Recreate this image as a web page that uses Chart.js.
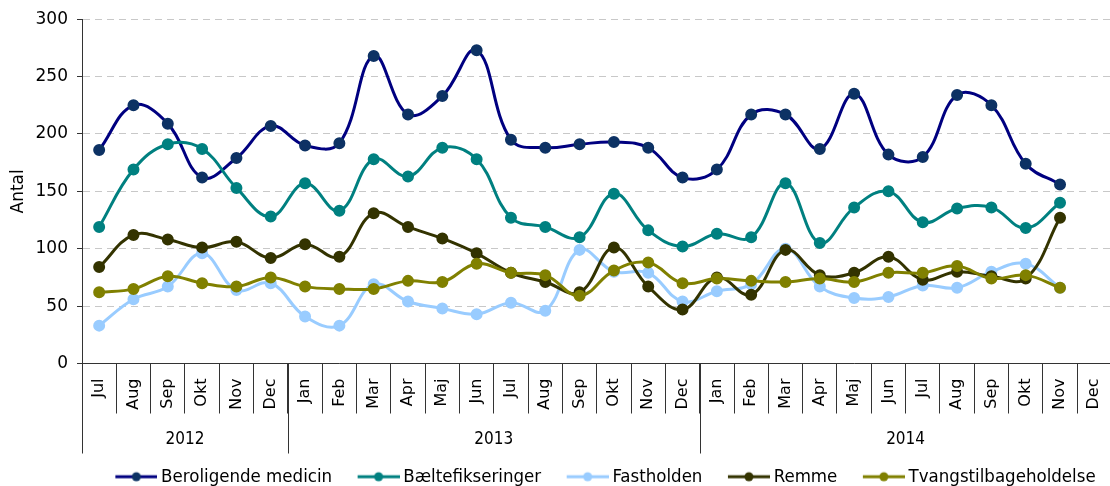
<!DOCTYPE html>
<html>
<head>
<meta charset="utf-8">
<script src="https://cdn.jsdelivr.net/npm/chart.js@4"></script>
<style>
  html, body { margin: 0; padding: 0; background: #fff; overflow: hidden; }
  #wrap { width: 1119px; height: 486px; }
</style>
</head>
<body>
<div id="wrap"><canvas id="chart"></canvas></div>
<script>
var months = ["Jul", "Aug", "Sep", "Okt", "Nov", "Dec",
              "Jan", "Feb", "Mar", "Apr", "Maj", "Jun", "Jul", "Aug", "Sep", "Okt", "Nov", "Dec",
              "Jan", "Feb", "Mar", "Apr", "Maj", "Jun", "Jul", "Aug", "Sep", "Okt", "Nov", "Dec"];
var years = ["2012", "2013", "2014"];
var yearSpans = [6, 12, 12];
var yTicks = [0, 50, 100, 150, 200, 250, 300];

var beroligende = [186, 225, 209, 162, 179, 207, 190, 192, 268, 217, 233, 273, 195, 188, 191, 193, 188, 162, 169, 217, 217, 187, 235, 182, 180, 234, 225, 174, 156];
var baelte      = [119, 169, 191, 187, 153, 128, 157, 133, 178, 163, 188, 178, 127, 119, 110, 148, 116, 102, 113, 110, 157, 105, 136, 150, 123, 135, 136, 118, 140];
var fastholden  = [33, 56, 67, 96, 64, 70, 41, 33, 69, 54, 48, 43, 53, 46, 99, 80, 79, 54, 63, 69, 100, 67, 57, 58, 68, 66, 80, 87, 66];
var remme       = [84, 112, 108, 101, 106, 92, 104, 93, 131, 119, 109, 96, 79, 71, 62, 101, 67, 47, 75, 60, 99, 77, 79, 93, 73, 80, 76, 74, 127];
var tvang       = [62, 65, 76, 70, 67, 75, 67, 65, 65, 72, 71, 87, 79, 77, 59, 81, 88, 70, 74, 72, 71, 74, 71, 79, 79, 85, 74, 77, 66];

var condensed = '"DejaVu Sans Condensed", "Liberation Sans Narrow", "DejaVu Sans", sans-serif';
var regular = '"DejaVu Sans", sans-serif';
var legendSize = 18.5;
var markBox = 54;

function serie(label, data, line, point, order) {
    return {
        label: label,
        data: data,
        borderColor: line,
        backgroundColor: point,
        pointBackgroundColor: point,
        pointBorderColor: point,
        pointRadius: 4.5,
        pointHoverRadius: 4.5,
        borderWidth: 3,
        tension: 0.4,
        fill: false,
        order: order
    };
}

// legend marker: short line with a dot, pushed right so it sits close to its text
function legendMark(line, point) {
    var w = Math.round(markBox + legendSize - 8);
    var c = document.createElement("canvas");
    c.width = w; c.height = 12;
    var g = c.getContext("2d");
    var x0 = w - 42;
    g.strokeStyle = line; g.lineWidth = 3;
    g.beginPath(); g.moveTo(x0, 6); g.lineTo(w, 6); g.stroke();
    g.fillStyle = point;
    g.beginPath(); g.arc(x0 + 21, 6, 4.5, 0, Math.PI * 2); g.fill();
    return c;
}

var yearPlugin = {
    id: "yearRow",
    afterDraw: function (chart) {
        var x = chart.scales.x, ctx = chart.ctx;
        var start = 0;
        ctx.save();
        ctx.strokeStyle = "#333";
        ctx.lineWidth = 1;
        ctx.fillStyle = "#000";
        ctx.font = "17px " + condensed;
        ctx.textAlign = "center";
        ctx.textBaseline = "middle";
        for (var i = 0; i < years.length; i++) {
            var l = x.getPixelForValue(start - 0.5);
            var r = x.getPixelForValue(start + yearSpans[i] - 0.5);
            var lx = Math.round(l) + 0.5;
            ctx.beginPath(); ctx.moveTo(lx, x.top); ctx.lineTo(lx, x.top + 90); ctx.stroke();
            ctx.fillText(years[i], (l + r) / 2, x.top + 76);
            start += yearSpans[i];
        }
        ctx.restore();
    }
};

var lineData = {
    labels: months,
    datasets: [
        serie("Beroligende medicin", beroligende, "#000080", "#0d3264", 5),
        serie("Bæltefikseringer", baelte, "#008080", "#008080", 4),
        serie("Fastholden", fastholden, "#99ccff", "#99ccff", 3),
        serie("Remme", remme, "#333300", "#333300", 2),
        serie("Tvangstilbageholdelse", tvang, "#808000", "#808000", 1)
    ]
};

var lineOptions = {
    responsive: true,
    maintainAspectRatio: false,
    animation: false,
    layout: { padding: { top: 10, right: 0, left: 0, bottom: -10 } },
    plugins: {
        tooltip: { enabled: false },
        legend: {
            position: "bottom",
            fullSize: false,
            labels: {
                usePointStyle: true,
                pointStyleWidth: markBox,
                padding: 8,
                color: "#000",
                font: { family: condensed, size: legendSize },
                generateLabels: function (chart) {
                    return chart.data.datasets.map(function (ds, i) {
                        return {
                            text: ds.label,
                            pointStyle: legendMark(ds.borderColor, ds.pointBackgroundColor),
                            fillStyle: ds.borderColor,
                            strokeStyle: ds.borderColor,
                            lineWidth: 0,
                            hidden: false,
                            datasetIndex: i,
                            fontColor: "#000"
                        };
                    });
                }
            }
        }
    },
    scales: {
        x: {
            offset: true,
            grid: { offset: true, drawOnChartArea: false, tickLength: 50, tickColor: "#333", color: "#333" },
            border: { color: "#333", width: 1 },
            ticks: {
                autoSkip: false, minRotation: 90, maxRotation: 90, padding: -35,
                color: "#000", font: { family: regular, size: 16 }
            },
            afterFit: function (s) { s.height = 96; }
        },
        y: {
            min: 0, max: 300,
            afterBuildTicks: function (s) { s.ticks = yTicks.map(function (v) { return { value: v }; }); },
            grid: { color: "#c8c8c8", tickColor: "#333", tickLength: 5, tickBorderDash: [] },
            border: { color: "#333", width: 1, dash: [7, 5] },
            ticks: { padding: 9, color: "#000", font: { family: regular, size: 17 } },
            title: { display: true, text: "Antal", color: "#000", font: { family: regular, size: 17 }, padding: { top: 8, bottom: 0 } },
            afterFit: function (s) { s.width = 82; }
        }
    }
};

var ctx = document.getElementById("chart").getContext("2d");
new Chart(ctx, { type: "line", data: lineData, options: lineOptions, plugins: [yearPlugin] });
</script>
</body>
</html>
